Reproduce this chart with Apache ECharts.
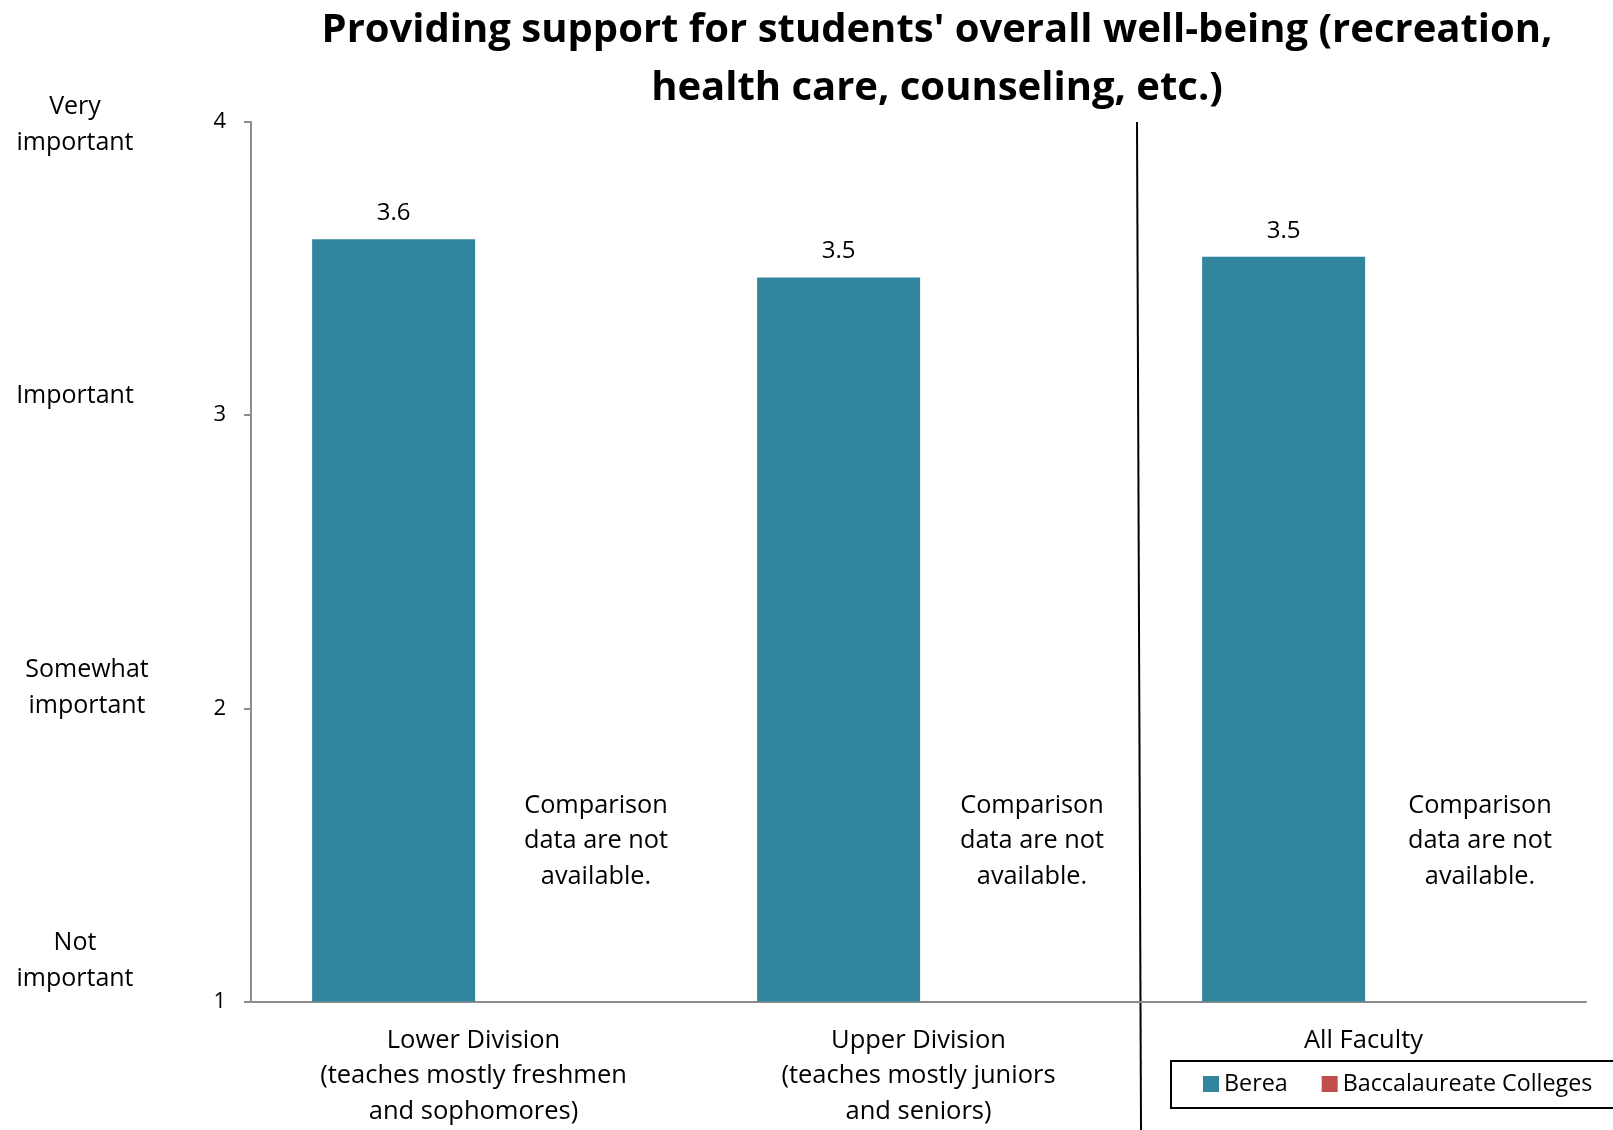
<!DOCTYPE html>
<html>
<head>
<meta charset="utf-8">
<script src="https://cdn.jsdelivr.net/npm/echarts@6/dist/echarts.min.js"></script>
<style>
  html, body { margin: 0; padding: 0; background: #fff; }
  #chart { width: 1613px; height: 1130px; }
</style>
</head>
<body>
<div id="chart"></div>
<script>
// Faculty groups on the x axis
const categories = [
  'Lower Division\n(teaches mostly freshmen\nand sophomores)',
  'Upper Division\n(teaches mostly juniors\nand seniors)',
  'All Faculty'
];
// Mean importance ratings (1 = Not important ... 4 = Very important)
const bereaValues = [3.60, 3.47, 3.54];
// No comparison data for the peer group
const baccalaureateValues = ['-', '-', '-'];
const seriesNames = ['Berea', 'Baccalaureate Colleges'];
const yTicks = { min: 1, max: 4, interval: 1 };
const scaleLabels = ['Very\nimportant', 'Important', 'Somewhat\nimportant', 'Not\nimportant'];
const noDataText = 'Comparison\ndata are not\navailable.';
const titleText = "Providing support for students' overall well-being (recreation,\nhealth care, counseling, etc.)";

const FONT = '"Open Sans", "Noto Sans", sans-serif';
const AXIS_GRAY = '#8c8c8c';

const chart = echarts.init(document.getElementById('chart'));

function freeText(text, x, y, size, opts) {
  return Object.assign({
    type: 'text', x: x, y: y, silent: true,
    style: {
      text: text, fill: '#000', font: size + 'px ' + FONT,
      textAlign: 'center', textVerticalAlign: 'middle', lineHeight: 35.5
    }
  }, opts || {});
}

chart.setOption({
  animation: false,
  backgroundColor: '#fff',
  textStyle: { fontFamily: FONT },
  grid: { left: 251, right: 27, top: 122, bottom: 128.5, containLabel: false },
  legend: {
    data: seriesNames,
    left: 1203, top: 1071,
    orient: 'horizontal',
    icon: 'rect', itemWidth: 16, itemHeight: 16, itemGap: 34,
    padding: 0,
    textStyle: { fontSize: 23.3, color: '#000', fontFamily: FONT, lineHeight: 26 }
  },
  xAxis: {
    type: 'category',
    data: categories,
    axisLine: { lineStyle: { color: AXIS_GRAY, width: 2 } },
    axisTick: { show: false },
    axisLabel: { color: '#000', fontSize: 25.5, lineHeight: 35.5, margin: 21, interval: 0, fontFamily: FONT }
  },
  yAxis: {
    type: 'value',
    min: yTicks.min, max: yTicks.max, interval: yTicks.interval,
    axisLine: { show: true, lineStyle: { color: AXIS_GRAY, width: 2 } },
    axisTick: { show: true, length: 7, lineStyle: { color: AXIS_GRAY, width: 2 } },
    splitLine: { show: false },
    axisLabel: { color: '#000', fontSize: 22, margin: 25, fontFamily: FONT }
  },
  series: [
    {
      name: seriesNames[0], type: 'bar', data: bereaValues,
      barWidth: 163, barGap: '-2%',
      itemStyle: { color: '#31859C' },
      label: {
        show: true, position: 'top', distance: 14,
        color: '#000', fontSize: 24, fontFamily: FONT,
        formatter: p => Number(p.value).toFixed(1)
      }
    },
    {
      name: seriesNames[1], type: 'bar', data: baccalaureateValues,
      barWidth: 163,
      itemStyle: { color: '#C0504D' }
    }
  ],
  graphic: [
    // chart title
    {
      type: 'text', x: 937, y: 60, silent: true,
      style: {
        text: titleText, fill: '#000', font: 'bold 40px ' + FONT,
        textAlign: 'center', textVerticalAlign: 'middle', lineHeight: 58
      }
    },
    // rating scale captions beside the y axis
    freeText(scaleLabels[0], 75, 125, 25),
    freeText(scaleLabels[1], 75, 396, 25),
    freeText(scaleLabels[2], 87, 688, 25),
    freeText(scaleLabels[3], 75, 961, 25),
    // notes where the comparison bars would be
    freeText(noDataText, 596, 841, 25.3),
    freeText(noDataText, 1032, 841, 25.3),
    freeText(noDataText, 1480, 841, 25.3),
    // separator between the division groups and all faculty
    {
      type: 'line', silent: true,
      shape: { x1: 1137, y1: 122, x2: 1141, y2: 1130 },
      style: { stroke: '#000', lineWidth: 2 }
    },
    // frame around the legend
    {
      type: 'rect', silent: true,
      shape: { x: 1171, y: 1061, width: 460, height: 47 },
      style: { fill: 'none', stroke: '#000', lineWidth: 2 }
    }
  ]
});
</script>
</body>
</html>
